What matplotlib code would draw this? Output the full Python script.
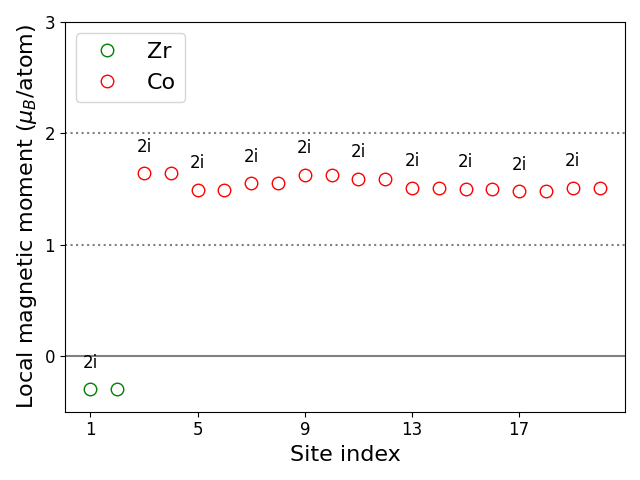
import matplotlib
matplotlib.use('Agg')
import matplotlib.pyplot as plt
import numpy as np

zr_sites = [1, 2]
zr_moments = [-0.30, -0.30]
co_sites = list(range(3, 21))
co_moments = [1.64, 1.64, 1.49, 1.49, 1.55, 1.55, 1.63, 1.63, 1.59, 1.59,
              1.51, 1.51, 1.50, 1.50, 1.48, 1.48, 1.51, 1.51]
wyckoff = ['2i'] * 10
label_sites = [1, 3, 5, 7, 9, 11, 13, 15, 17, 19]

all_moments = dict(zip(zr_sites + co_sites, zr_moments + co_moments))

fig, ax = plt.subplots(figsize=(6.4, 4.8), dpi=100)
ax.axhline(0, color='gray', lw=1.5)
ax.axhline(1, color='gray', ls=':', lw=1.5)
ax.axhline(2, color='gray', ls=':', lw=1.5)
ax.plot(zr_sites, zr_moments, 'o', mfc='none', mec='green', ms=9, label='Zr')
ax.plot(co_sites, co_moments, 'o', mfc='none', mec='red', ms=9, label='Co')

for s, w in zip(label_sites, wyckoff):
    ax.text(s, all_moments[s] + 0.24, w, ha='center', va='center', fontsize=12)

ax.set_ylim(-0.5, 3)
ax.set_xticks([1, 5, 9, 13, 17])
ax.set_yticks([0, 1, 2, 3])
ax.tick_params(labelsize=12)
ax.set_xlabel('Site index', fontsize=16)
ax.set_ylabel(r'Local magnetic moment ($\mu_B$/atom)', fontsize=16)
ax.legend(loc='upper left', fontsize=16)
plt.tight_layout()
plt.savefig('out.png')
